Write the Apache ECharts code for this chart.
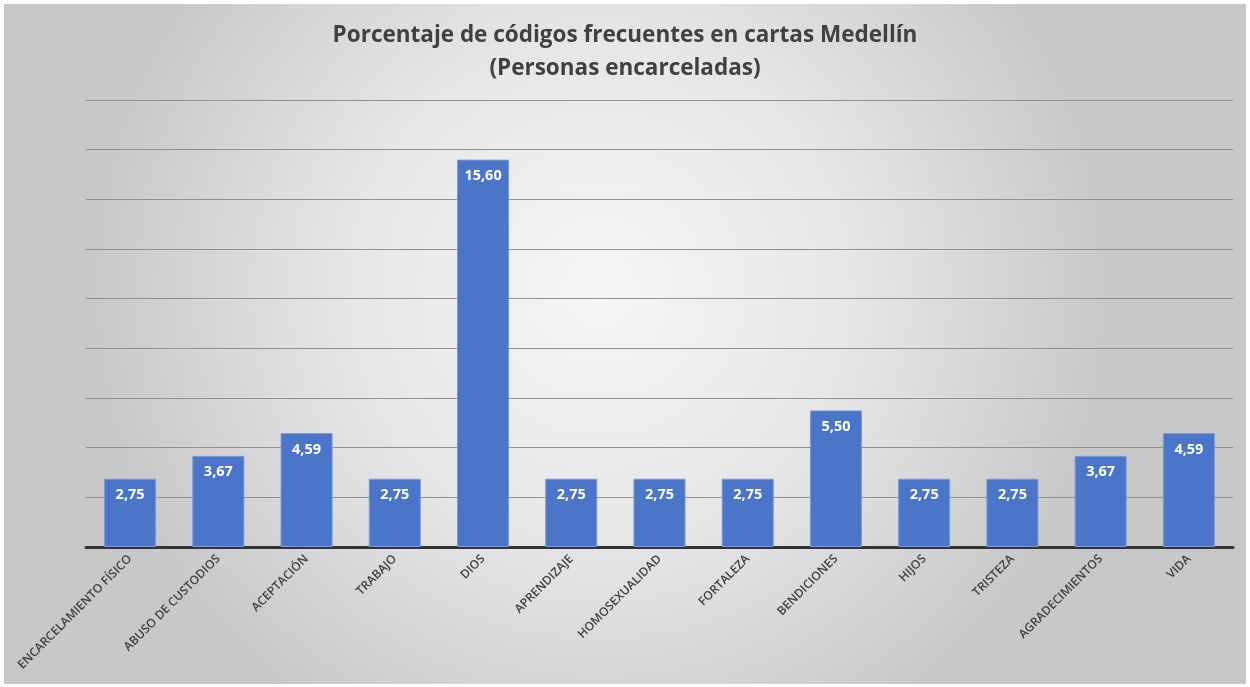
<!DOCTYPE html>
<html>
<head>
<meta charset="utf-8">
<script src="https://cdn.jsdelivr.net/npm/echarts@6/dist/echarts.min.js"></script>
<style>
html,body{margin:0;padding:0;background:#ffffff;}
#c{position:absolute;left:4px;top:4px;width:1242px;height:680px;}
</style>
</head>
<body>
<div id="c"></div>
<script>
const categories = ["ENCARCELAMIENTO FÍSICO","ABUSO DE CUSTODIOS","ACEPTACIÓN","TRABAJO","DIOS","APRENDIZAJE","HOMOSEXUALIDAD","FORTALEZA","BENDICIONES","HIJOS","TRISTEZA","AGRADECIMIENTOS","VIDA"];
const values = [2.75,3.67,4.59,2.75,15.60,2.75,2.75,2.75,5.50,2.75,2.75,3.67,4.59];
const titleText = "Porcentaje de códigos frecuentes en cartas Medellín\n(Personas encarceladas)";

const chart = echarts.init(document.getElementById('c'));
chart.setOption({
  backgroundColor: {
    type: 'radial', x: 0.48, y: 0.42, r: 0.75,
    colorStops: [
      {offset: 0, color: '#f6f6f6'},
      {offset: 0.5, color: '#e6e6e6'},
      {offset: 1, color: '#c8c8c8'}
    ]
  },
  title: {
    text: titleText,
    left: 'center', top: 10,
    textStyle: {fontFamily: 'Open Sans', fontWeight: 'bold', fontSize: 22.5, color: '#404040', lineHeight: 33}
  },
  grid: {left: 82, right: 13, top: 96, bottom: 137},
  xAxis: {
    type: 'category', data: categories,
    axisLine: {lineStyle: {color: '#333333', width: 3}},
    axisTick: {show: false},
    axisLabel: {rotate: 45, interval: 0, margin: 10, fontFamily: 'Open Sans', fontWeight: 600, fontSize: 12, color: '#404040'}
  },
  yAxis: {
    type: 'value', min: 0, max: 18, interval: 2,
    axisLabel: {show: false}, axisLine: {show: false}, axisTick: {show: false},
    splitLine: {lineStyle: {color: '#909090', width: 1}}
  },
  series: [{
    type: 'bar', data: values, barCategoryGap: '41%',
    itemStyle: {color: '#4b75c8', borderColor: '#7b9ada', borderWidth: 1},
    label: {
      show: true, position: 'insideTop', distance: 9,
      formatter: p => p.value.toFixed(2).replace('.', ','),
      fontFamily: 'Open Sans', fontWeight: 'bold', fontSize: 14.5, color: '#ffffff'
    }
  }]
});
</script>
</body>
</html>
